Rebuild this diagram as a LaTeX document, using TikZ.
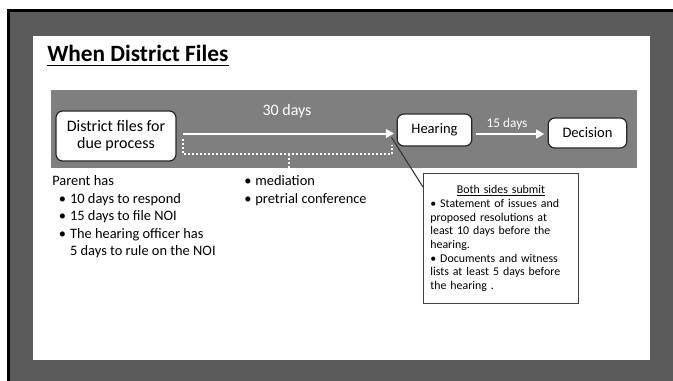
\documentclass[tikz,border=0pt]{standalone}
\usepackage{fontspec}
\setmainfont{Carlito}
\usepackage{xcolor}
\definecolor{slidegray}{RGB}{91,91,91}
\definecolor{bandgray}{RGB}{127,127,127}
\usetikzlibrary{
  arrows.meta,
  positioning,
  calc
}
\newcommand{\bitem}{\hspace*{5pt}\textbullet\hspace{3pt}}
\newcommand{\bcont}{\hspace*{5pt}\phantom{\textbullet}\hspace{3pt}}

\begin{document}
\begin{tikzpicture}[
    x=0.75pt, y=-0.75pt,
    stagebox/.style={rectangle, rounded corners=5pt, draw=black!85, fill=white,
                     line width=0.9pt, inner sep=0pt, align=center},
    notebox/.style={rectangle, draw=black!75, fill=white, line width=0.8pt,
                    inner xsep=5pt, inner ysep=0pt, text width=106pt,
                    align=left, anchor=north west},
    timeline/.style={draw=white, line width=1.5pt,
                     -{Triangle[length=6pt, width=6.5pt]}},
    gapline/.style={draw=white, line width=0.8pt, dash pattern=on 1.5pt off 1.5pt},
    dayslabel/.style={text=white, inner sep=0pt},
    bodytext/.style={anchor=north west, align=left, inner sep=0pt,
                     font=\fontsize{10.8}{13.1}\selectfont},
    >=Stealth
  ]

  \useasboundingbox (0,0) rectangle (673,381);

  %% Slide frame
  \fill[slidegray] (8.5,10.5) rectangle (690,400);
  \draw[black, line width=2.2pt] (8.5,400) |- (690,10.5);
  \fill[white] (33,36) rectangle (650,360);

  %% Title
  \node[anchor=base west, inner sep=0pt, font=\fontsize{17.5}{20}\selectfont\bfseries]
    (title) at (47,62) {When District Files};
  \draw[line width=1.4pt] ($(title.base west)+(0,3.5)$) -- ($(title.base east)+(0,3.5)$);

  %% Timeline band
  \fill[bandgray] (51,90) rectangle (637,168);

  \node[stagebox, minimum width=90pt, minimum height=37.5pt,
        font=\fontsize{12}{13}\selectfont] (district) at (116,136)
    {District files for\\due process};
  \node[stagebox, minimum width=56pt, minimum height=24pt,
        font=\fontsize{10.9}{12}\selectfont] (hearing) at (434.5,130) {Hearing};
  \node[stagebox, minimum width=59pt, minimum height=22.5pt,
        font=\fontsize{10.9}{12}\selectfont] (decision) at (587.5,133) {Decision};

  \coordinate (lane) at (183,133.5);
  \coordinate (lanetwo) at (476,134);
  \draw[timeline, shorten >=2pt] (lane) -- (lane -| hearing.west);
  \draw[timeline, shorten >=2.5pt] (lanetwo) -- (lanetwo -| decision.west);

  \node[dayslabel, font=\fontsize{12}{13}\selectfont] (thirty) at (287,111) {30 days};
  \node[dayslabel, font=\fontsize{10}{12}\selectfont] (fifteen) at (507,124) {15 days};

  %% Dashed bracket under the 30 days
  \coordinate (gapleft) at (183,139);
  \coordinate (gapright) at (392,145);
  \coordinate (gapmid) at (289,154);
  \draw[gapline] (gapleft) |- (gapmid) -| (gapright);
  \draw[gapline] (gapmid) -- (289,168);

  %% Notes below the band
  \node[bodytext] (parent) at (52,175.5)
    {Parent has\\
     \bitem 10 days to respond\\
     \bitem 15 days to file NOI\\
     \bitem The hearing officer has\\
     \bcont 5 days to rule on the NOI};
  \node[bodytext] (options) at (244,175.5)
    {\textbullet\hspace{3pt}mediation\\
     \textbullet\hspace{3pt}pretrial conference};

  %% Callout
  \node[notebox, minimum width=116.25pt, minimum height=97.5pt,
        font=\fontsize{8.9}{10.3}\selectfont] (submit) at (423,173)
    {\hfill\underline{Both sides submit}\hfill\null\\
     \textbullet\ Statement of issues and\\
     proposed resolutions at\\
     least 10 days before the\\
     hearing.\\
     \textbullet\ Documents and witness\\
     lists at least 5 days before\\
     the hearing .};
  \draw[black!80, line width=0.8pt] ($(lane -| hearing.west)+(-5,4)$)
    -- ($(submit.north west)+(0,14)$);

\end{tikzpicture}
\end{document}
